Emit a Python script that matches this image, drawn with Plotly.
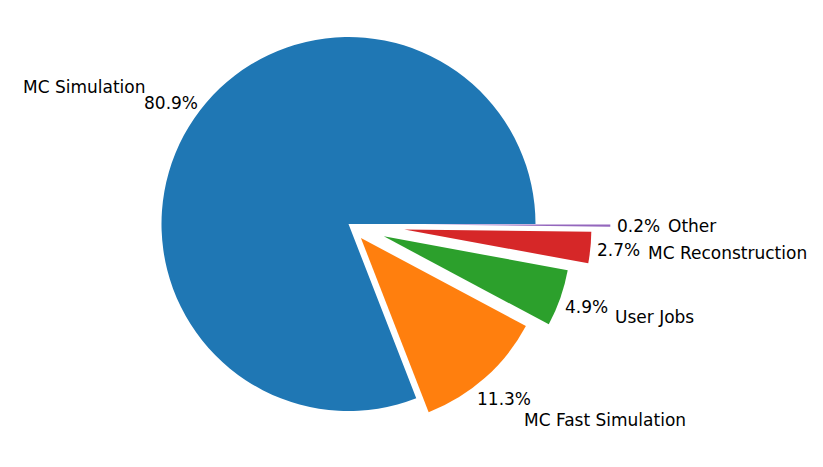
import math
import plotly.graph_objects as go

labels = ["MC Simulation", "MC Fast Simulation", "User Jobs", "MC Reconstruction", "Other"]
values = [80.9, 11.3, 4.9, 2.7, 0.2]
explode = [0.0, 0.1, 0.2, 0.3, 0.4]
colors = ["#1f77b4", "#ff7f0e", "#2ca02c", "#d62728", "#9467bd"]

W, H = 823, 467
PAGE_OFFSET = 8  # default body margin of the html page
CX, CY, R = 348.5 - PAGE_OFFSET, 224.0 - PAGE_OFFSET, 187.0
LABEL_DIST, PCT_DIST = 1.3, 1.15
FONT = dict(family="DejaVu Sans", size=17, color="black")

total = sum(values)
# align the first slice so it starts at 3 o'clock and runs counterclockwise
rotation = 90 - 360.0 * values[0] / total

fig = go.Figure()
annotations = []
start = 0.0
for i, (lab, v, ex) in enumerate(zip(labels, values, explode)):
    span = 360.0 * v / total
    mid = math.radians(start + span / 2)
    start += span
    dx, dy = math.cos(mid), -math.sin(mid)
    cx = CX + ex * R * dx
    cy = CY + ex * R * dy
    cols = ["rgba(0,0,0,0)"] * len(values)
    cols[i] = colors[i]
    fig.add_trace(go.Pie(
        values=values, labels=labels, sort=False, direction="counterclockwise",
        rotation=rotation, marker=dict(colors=cols, line=dict(width=0)),
        textinfo="none", hoverinfo="skip", showlegend=False,
        domain=dict(x=[(cx - R) / W, (cx + R) / W], y=[1 - (cy + R) / H, 1 - (cy - R) / H]),
    ))
    anchor = "left" if dx > 0 else "right"
    lx, ly = cx + LABEL_DIST * R * dx, cy + LABEL_DIST * R * dy
    px, py = cx + PCT_DIST * R * dx, cy + PCT_DIST * R * dy
    annotations.append(dict(x=lx / W, y=1 - ly / H, xref="paper", yref="paper", text=lab,
                            showarrow=False, xanchor=anchor, yanchor="middle", font=FONT))
    annotations.append(dict(x=px / W, y=1 - py / H, xref="paper", yref="paper", text=f"{v:.1f}%",
                            showarrow=False, xanchor="center", yanchor="middle", font=FONT))

fig.update_layout(width=W, height=H, margin=dict(l=0, r=0, t=0, b=0),
                  paper_bgcolor="white", plot_bgcolor="white", annotations=annotations)
fig.write_html("out.html")
